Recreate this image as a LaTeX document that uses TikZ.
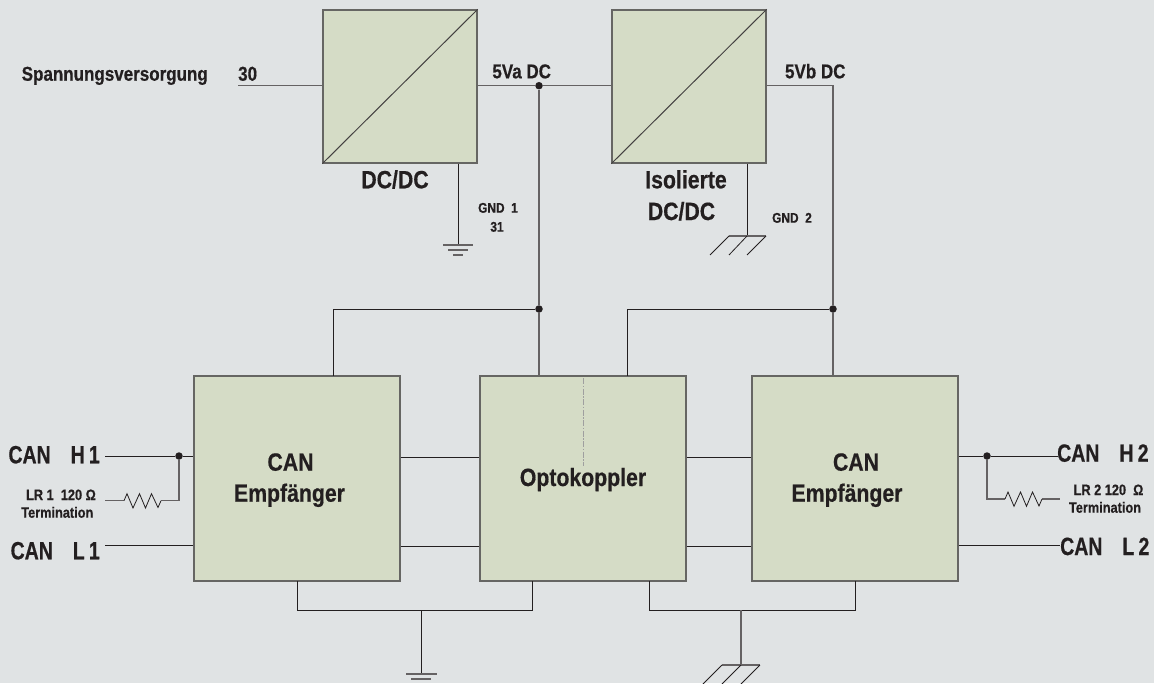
\documentclass[tikz,border=0pt]{standalone}
\usepackage{fontspec}
\setmainfont{Liberation Sans}[BoldFont={Liberation Sans Bold},BoldFeatures={FakeStretch=0.85,FakeBold=0.5},FakeStretch=0.85]
\newfontfamily\portfont{Liberation Sans Bold}[FakeStretch=0.78,FakeBold=0.5]
\definecolor{bgc}{HTML}{E0E3E4}
\definecolor{boxc}{HTML}{D5DCC6}
\definecolor{ink}{HTML}{231F20}
\definecolor{edgec}{HTML}{666663}
\tikzset{
  block/.style={draw=edgec,line width=1.3pt,fill=boxc,inner sep=0pt,minimum width=206pt,minimum height=205pt},
  conv/.style={draw=edgec,line width=1.3pt,fill=boxc,inner sep=0pt,minimum width=154pt,minimum height=153pt},
  diag/.style={draw=ink!85,line width=1pt},
  wire/.style={draw=ink,line width=1pt},
  greywire/.style={draw=ink!70,line width=1.2pt},
  dotnode/.style={circle,fill=ink,inner sep=0pt,minimum size=7.5pt},
  bar/.style={draw=ink!70,line width=1.2pt},
  hatch/.style={draw=ink,line width=0.8pt},
  big/.style={font=\fontsize{25}{31}\selectfont\bfseries,text=ink,anchor=base,inner sep=0pt},
  port/.style={font=\fontsize{25}{28}\selectfont\portfont,text=ink,inner sep=0pt},
  mid/.style={font=\fontsize{20}{24}\selectfont\bfseries,text=ink,inner sep=0pt},
  small/.style={font=\fontsize{14}{19}\selectfont\bfseries,text=ink,inner sep=0pt,anchor=base},
  tiny/.style={font=\fontsize{15}{18}\selectfont\bfseries,text=ink,inner sep=0pt,anchor=base},
}
\begin{document}
\begin{tikzpicture}[x=1pt,y=-1pt]
\path[use as bounding box,fill=bgc] (0,0) rectangle (1154,683);
% blocks
\node[conv] (dc1) at (400,86.5) {};
\node[conv] (dc2) at (689,86.5) {};
\node[block] (can1) at (297,478.5) {};
\node[block] (opto) at (583,478.5) {};
\node[block] (can2) at (855,478.5) {};
\draw[diag] (dc1.south west) -- (dc1.north east);
\draw[diag] (dc2.south west) -- (dc2.north east);
% block labels
\node[big] (l1a) at (395,188.3) {DC/DC};
\node[big] (l2a) at (686,188.3) {Isolierte};
\node[big] (l2b) at (681.5,220) {DC/DC};
\node[big] (l3a) at (290.5,470.7) {CAN};
\node[big] (l3b) at (289.5,501.7) {Empfänger};
\node[big] (l4a) at (583,486) {Optokoppler};
\node[big] (l5a) at (856,470.7) {CAN};
\node[big] (l5b) at (847,501.7) {Empfänger};
% junctions
\node[dotnode] (j5a) at (539,85.7) {};
\node[dotnode] (ja) at (539,309) {};
\node[dotnode] (jb) at (833,309) {};
\node[dotnode] (jh1) at (179,456) {};
\node[dotnode] (jh2) at (987,456) {};
% free ends
\coordinate (in30) at (238,85.7);
\coordinate (h1) at (105,456);
\coordinate (l1) at (105,545.7);
\coordinate (r1) at (105,500.7);
\coordinate (h2) at (1058,456);
\coordinate (l2) at (1060,545.7);
\coordinate (r2) at (1060,499);
\coordinate (gnd1) at (458,245);
\coordinate (gnd2) at (747,236);
\coordinate (gnd3) at (421,674);
\coordinate (gnd4) at (741,665);
\coordinate (busl) at (421,610);
\coordinate (busr) at (741,610);
% top wires
\draw[greywire] (in30) -- (dc1.west |- in30);
\draw[greywire] (dc1.east |- j5a) -- (j5a) -- (dc2.west |- j5a);
\draw[greywire] (dc2.east |- j5a) -- (jb |- j5a) -- (jb) -- (jb |- can2.north);
\draw[greywire] (j5a) -- (ja) -- (ja |- opto.north);
\draw[wire] (ja) -- (333,309) -- (333,376);
\draw[wire] (jb) -- (627,309) -- (627,376);
\draw[wire] (dc1.south -| gnd1) -- (gnd1);
\draw[wire] (dc2.south -| gnd2) -- (gnd2);
% horizontal links
\draw[wire] (can1.east |- 0,457) -- (opto.west |- 0,457);
\draw[wire] (can1.east |- 0,546) -- (opto.west |- 0,546);
\draw[wire] (opto.east |- 0,457) -- (can2.west |- 0,457);
\draw[wire] (opto.east |- 0,546) -- (can2.west |- 0,546);
% CAN H/L
\draw[wire] (h1) -- (jh1) -- (can1.west |- jh1);
\draw[wire] (l1) -- (can1.west |- l1);
\draw[wire] (can2.east |- jh2) -- (jh2) -- (h2);
\draw[wire] (can2.east |- l2) -- (l2);
% resistors
\draw[greywire] (jh1) -- (179,500.7) -- (161,500.7);
\draw[greywire] (r1) -- (124,500.7);
\draw[hatch] (124,500.7) -- (127,493.7) -- (133,508) -- (139.5,493.7) -- (145.5,508) -- (151.5,493.7) -- (158,507.5) -- (161,500.7);
\draw[greywire] (jh2) -- (987,499) -- (1005,499);
\draw[greywire] (1042,499) -- (r2);
\draw[hatch] (1005,499) -- (1008,492) -- (1014,506.3) -- (1020.5,492) -- (1026.5,506.3) -- (1032.5,492) -- (1039,506) -- (1042,499);
% bottom buses
\draw[wire] (297,581) -- (297,610) -- (532,610) -- (532,581);
\draw[wire] (649,581) -- (649,610) -- (855,610) -- (855,581);
\draw[wire] (busl) -- (gnd3);
\draw[greywire] (busr) -- (gnd4);
% grounds
\draw[bar] (443,245) -- (473,245);
\draw[bar] (448,250) -- (468,250);
\draw[bar] (453,255) -- (463,255);
\draw[bar] (406,674) -- (437,674);
\draw[bar] (411,679) -- (431,679);
\draw[bar] (729,236) -- (766,236);
\draw[hatch] (729,236) -- (710,255);
\draw[hatch] (747,236) -- (729,255);
\draw[hatch] (766,236) -- (747,255);
\draw[bar] (722,665) -- (760,665);
\draw[hatch] (722,665) -- (703,684);
\draw[hatch] (741,665) -- (722,684);
\draw[hatch] (760,665) -- (741,684);
% optocoupler barrier
\draw[draw=gray!75,line width=0.9pt,dash pattern=on 6pt off 1.5pt on 1.5pt off 1.5pt] (583,378) -- (583,466);
% labels
\node[mid,anchor=base east] (t1) at (208,80.7) {Spannungsversorgung};
\node[mid,anchor=base west] (t2) at (238,80.7) {30};
\node[mid,anchor=base] (t3) at (521.7,78.3) {5Va DC};
\node[mid,anchor=base] (t4) at (815.3,78.3) {5Vb DC};
\node[small] (t5) at (498,212.7) {GND\ \ 1};
\node[small] (t6) at (497,231.7) {31};
\node[small] (t7) at (792,222.7) {GND\ \ 2};
\node[port,anchor=base east] (t8) at (100,463.3) {CAN\hspace{20pt}H\,1};
\node[port,anchor=base east] (t9) at (100,559.3) {CAN\hspace{20pt}L\,1};
\node[port,anchor=base west] (t10) at (1057,461.7) {CAN\hspace{20pt}H\,2};
\node[port,anchor=base west] (t11) at (1060,555) {CAN\hspace{20pt}L\,2};
\node[tiny] (t12) at (61,500) {LR 1\ \ 120 Ω};
\node[tiny] (t13) at (57.3,517.7) {Termination};
\node[tiny] (t14) at (1108.5,495) {LR 2\ 120\ \ Ω};
\node[tiny] (t15) at (1105,512.7) {Termination};
\end{tikzpicture}
\end{document}
